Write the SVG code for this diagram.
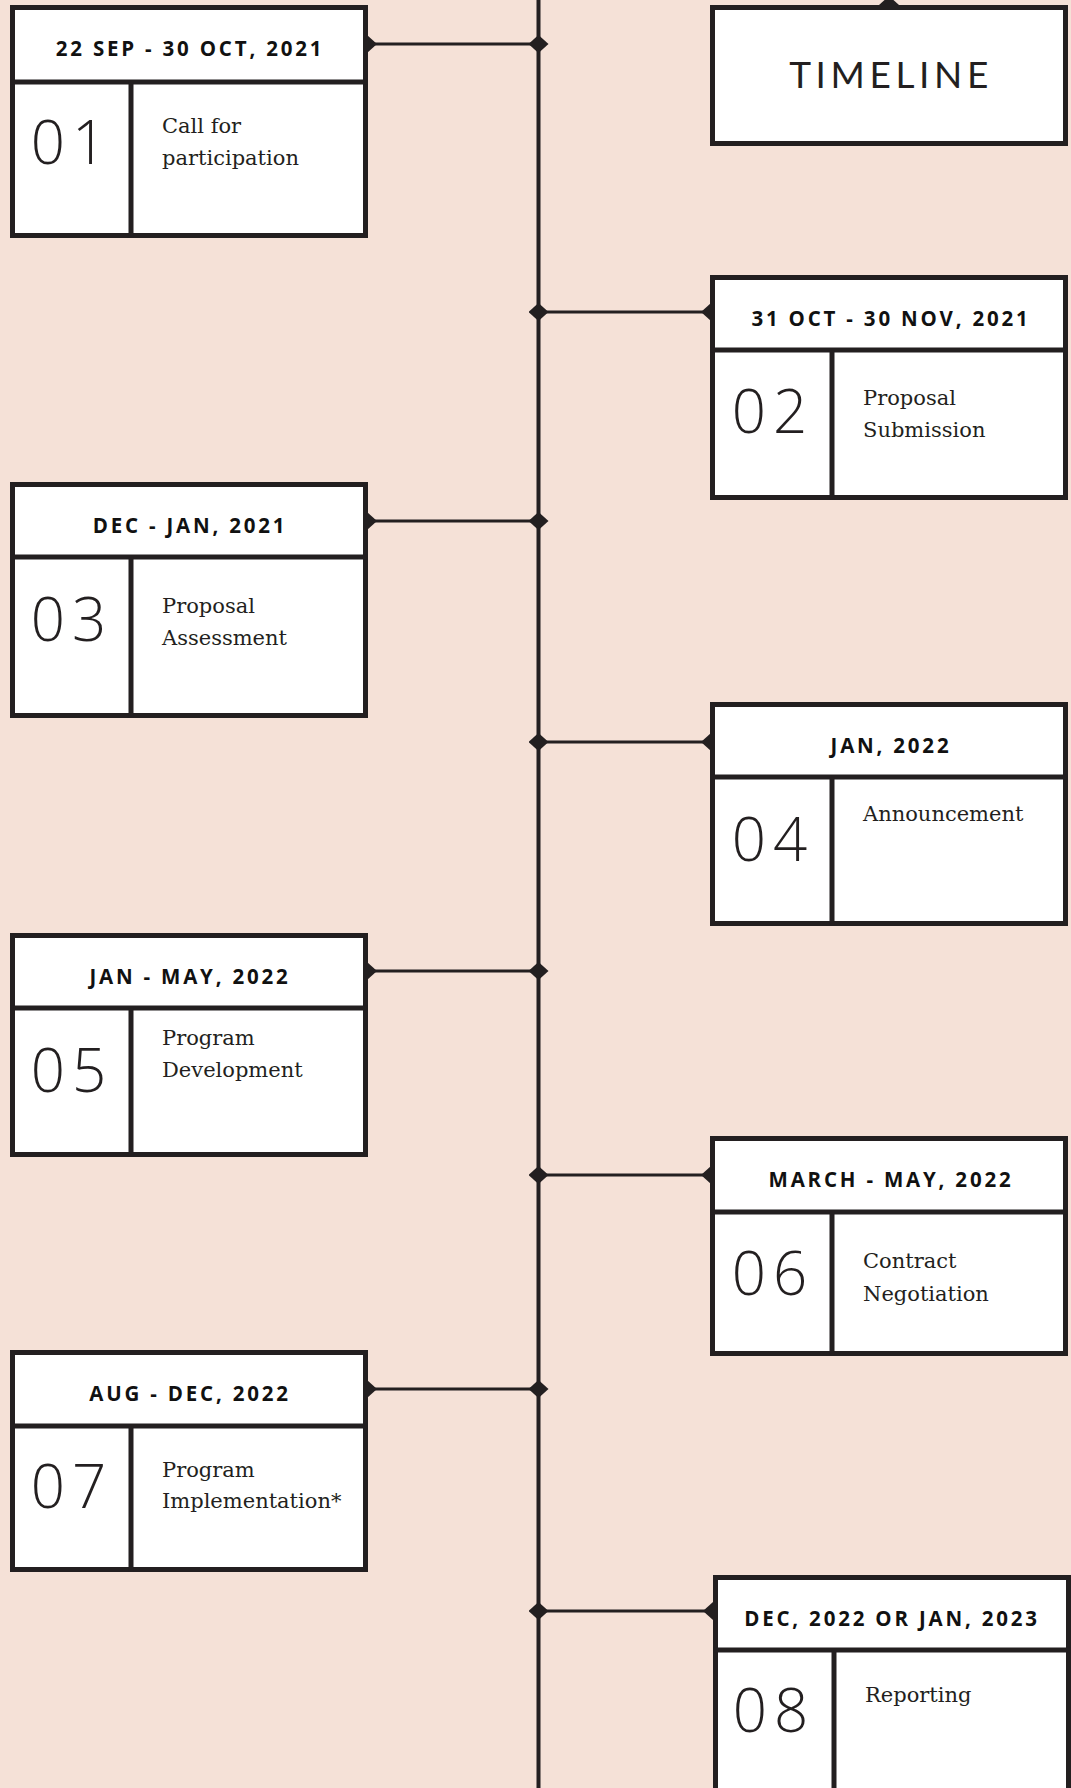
<svg xmlns="http://www.w3.org/2000/svg" width="1071" height="1788" viewBox="0 0 1071 1788">
<style>
.box{fill:#ffffff;stroke:#231f20;stroke-width:5}
.div{stroke:#231f20;stroke-width:5}
.hdr{font-family:"Open Sans","Liberation Sans",sans-serif;font-weight:700;font-size:20.5px;letter-spacing:2.8px;fill:#111;text-anchor:middle}
.num{font-family:"Open Sans","Liberation Sans",sans-serif;font-weight:300;font-size:60px;letter-spacing:7px;fill:#231f20;text-anchor:middle}
.desc{font-family:"DejaVu Serif","Liberation Serif",serif;font-size:21px;fill:#231f20}
.title{font-family:Lato,"Open Sans",sans-serif;font-weight:400;font-size:37px;letter-spacing:4.6px;fill:#231f20;text-anchor:middle}
.main{stroke:#231f20;stroke-width:4}
.conn{stroke:#231f20;stroke-width:2.8;fill:none;marker-start:url(#dia);marker-end:url(#dia)}
</style>
<defs>
<marker id="dia" viewBox="-10 -9 20 18" markerWidth="20" markerHeight="18" refX="0" refY="0" markerUnits="userSpaceOnUse" orient="0">
<path d="M-10 0 L0 -9 L10 0 L0 9 Z" fill="#231f20"/>
</marker>
</defs>
<rect x="0" y="0" width="1071" height="1788" fill="#f5e1d7"/>
<g id="connectors">
<line class="main" x1="538.5" y1="0" x2="538.5" y2="1788"/>
<path d="M879 5 L889 -4 L899 5 L889 14 Z" fill="#231f20"/>
<line class="conn" x1="367" y1="44" x2="538.5" y2="44"/>
<line class="conn" x1="538.5" y1="312" x2="711" y2="312"/>
<line class="conn" x1="367" y1="521" x2="538.5" y2="521"/>
<line class="conn" x1="538.5" y1="742" x2="711" y2="742"/>
<line class="conn" x1="367" y1="971" x2="538.5" y2="971"/>
<line class="conn" x1="538.5" y1="1175" x2="711" y2="1175"/>
<line class="conn" x1="367" y1="1389" x2="538.5" y2="1389"/>
<line class="conn" x1="538.5" y1="1611" x2="713" y2="1611"/>
</g>
<g id="title">
<rect class="box" x="712.5" y="7.5" width="353" height="136"/>
<text class="title" x="891" y="88">TIMELINE</text>
</g>
<g id="node1">
<rect class="box" x="12.5" y="7.5" width="353" height="228"/>
<line class="div" x1="10" y1="82" x2="368" y2="82"/>
<line class="div" x1="131" y1="82" x2="131" y2="238"/>
<text class="hdr" x="190" y="56">22 SEP - 30 OCT, 2021</text>
<text class="num" x="72" y="164">01</text>
<text class="desc" x="162" y="133">Call for</text>
<text class="desc" x="162" y="165">participation</text>
</g>
<g id="node2">
<rect class="box" x="712.5" y="277.5" width="353" height="220"/>
<line class="div" x1="710" y1="350" x2="1068" y2="350"/>
<line class="div" x1="832" y1="350" x2="832" y2="500"/>
<text class="hdr" x="891" y="326">31 OCT - 30 NOV, 2021</text>
<text class="num" x="773" y="433">02</text>
<text class="desc" x="863" y="405">Proposal</text>
<text class="desc" x="863" y="437">Submission</text>
</g>
<g id="node3">
<rect class="box" x="12.5" y="484.5" width="353" height="231"/>
<line class="div" x1="10" y1="557" x2="368" y2="557"/>
<line class="div" x1="131" y1="557" x2="131" y2="718"/>
<text class="hdr" x="190" y="533">DEC - JAN, 2021</text>
<text class="num" x="72" y="641">03</text>
<text class="desc" x="162" y="613">Proposal</text>
<text class="desc" x="162" y="645">Assessment</text>
</g>
<g id="node4">
<rect class="box" x="712.5" y="704.5" width="353" height="219"/>
<line class="div" x1="710" y1="777" x2="1068" y2="777"/>
<line class="div" x1="832" y1="777" x2="832" y2="926"/>
<text class="hdr" x="891" y="753">JAN, 2022</text>
<text class="num" x="773" y="861">04</text>
<text class="desc" x="863" y="821">Announcement</text>
</g>
<g id="node5">
<rect class="box" x="12.5" y="935.5" width="353" height="219"/>
<line class="div" x1="10" y1="1008" x2="368" y2="1008"/>
<line class="div" x1="131" y1="1008" x2="131" y2="1157"/>
<text class="hdr" x="190" y="984">JAN - MAY, 2022</text>
<text class="num" x="72" y="1092">05</text>
<text class="desc" x="162" y="1045">Program</text>
<text class="desc" x="162" y="1077">Development</text>
</g>
<g id="node6">
<rect class="box" x="712.5" y="1138.5" width="353" height="215"/>
<line class="div" x1="710" y1="1212" x2="1068" y2="1212"/>
<line class="div" x1="832" y1="1212" x2="832" y2="1356"/>
<text class="hdr" x="891" y="1187">MARCH - MAY, 2022</text>
<text class="num" x="773" y="1295">06</text>
<text class="desc" x="863" y="1268">Contract</text>
<text class="desc" x="863" y="1301">Negotiation</text>
</g>
<g id="node7">
<rect class="box" x="12.5" y="1352.5" width="353" height="217"/>
<line class="div" x1="10" y1="1426" x2="368" y2="1426"/>
<line class="div" x1="131" y1="1426" x2="131" y2="1572"/>
<text class="hdr" x="190" y="1401">AUG - DEC, 2022</text>
<text class="num" x="72" y="1508">07</text>
<text class="desc" x="162" y="1477">Program</text>
<text class="desc" x="162" y="1508">Implementation*</text>
</g>
<g id="node8">
<rect class="box" x="715.5" y="1577.5" width="353" height="230"/>
<line class="div" x1="713" y1="1650" x2="1071" y2="1650"/>
<line class="div" x1="834" y1="1650" x2="834" y2="1800"/>
<text class="hdr" x="892" y="1626">DEC, 2022 OR JAN, 2023</text>
<text class="num" x="774" y="1732">08</text>
<text class="desc" x="865" y="1702">Reporting</text>
</g>
</svg>
